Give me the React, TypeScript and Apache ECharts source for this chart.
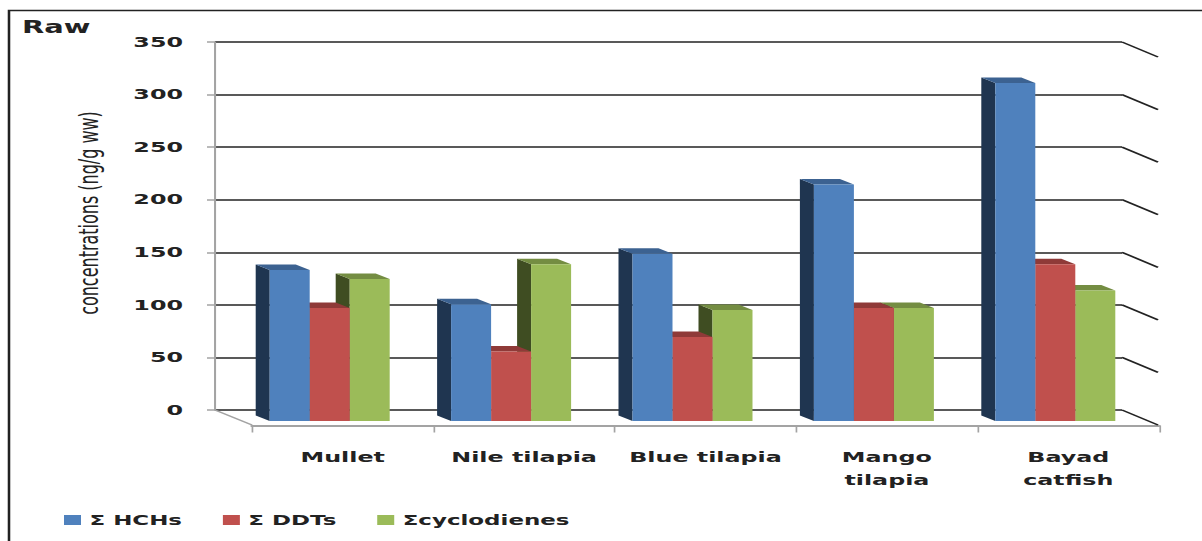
import { useEffect, useRef } from "react";
import * as echarts from "echarts";

// Horizontal stretch of the whole figure; chart units are screen pixels / STRETCH.
const STRETCH = 1.7;
const u = (px: number) => px / STRETCH;

const categories = ["Mullet", "Nile tilapia", "Blue tilapia", "Mango\ntilapia", "Bayad\ncatfish"];
const hchs = [143.5, 111, 159, 225, 321.5];
const ddts = [107.5, 66, 80, 107.5, 149];
const cyclodienes = [135, 149, 105.5, 107.5, 124];
const valueTicks = [0, 50, 100, 150, 200, 250, 300, 350];

const seriesNames = ["Σ HCHs", "Σ DDTs", "Σcyclodienes"];
const faceColors = ["#4f81bd", "#c0504d", "#9bbb59"];
const sideColors = ["#1f3550", "#6e2c2a", "#3f4d22"];
const topColors = ["#3c6291", "#8f3a38", "#748d42"];

const INK = "#222222";
const GREY = "#a3a3a3";
const FONT = "'DejaVu Sans'";

export default function App() {
  const ref = useRef<HTMLDivElement>(null);

  useEffect(() => {
    if (!ref.current) return;
    const chart = echarts.init(ref.current, undefined, { renderer: "svg" });

    // One 3D column: front face, left side and top, pushed forward from the back wall.
    const column = (j: number) => (_: any, api: any) => {
      const cat = api.value(0);
      const band = api.size([1, 0])[0];
      const w = band * 0.2205;
      const [cx, top] = api.coord([cat, api.value(1)]);
      const [, base] = api.coord([cat, 0]);
      const left = cx + u(24) + (j - 1.5) * w;
      const fy = 11;
      const dx = u(14);
      const dy = 5.5;
      const t = top + fy;
      const b = base + fy;
      return {
        type: "group",
        children: [
          {
            type: "polygon",
            shape: { points: [[left, t], [left - dx, t - dy], [left - dx, b - dy], [left, b]] },
            style: { fill: sideColors[j] },
          },
          {
            type: "polygon",
            shape: { points: [[left, t], [left - dx, t - dy], [left + w - dx, t - dy], [left + w, t]] },
            style: { fill: topColors[j] },
          },
          { type: "rect", shape: { x: left, y: t, width: w, height: b - t }, style: { fill: faceColors[j] } },
        ],
      };
    };

    // Short receding gridlines on the right wall, plus the floor edge on the left.
    const depthLines = (params: any, api: any) => {
      const v = api.value(0);
      const [, y] = api.coord([0, v]);
      const area = params.coordSys;
      const right = area.x + area.width;
      const children: any[] = [
        {
          type: "line",
          shape: { x1: right, y1: y, x2: right + u(36), y2: y + 15 },
          style: { stroke: INK, lineWidth: 1.5 },
        },
      ];
      if (v === 0) {
        children.push({
          type: "line",
          shape: { x1: area.x, y1: y, x2: area.x + u(37), y2: y + 15 },
          style: { stroke: GREY, lineWidth: 1.5 },
        });
      }
      return { type: "group", children };
    };

    const columnSeries = [hchs, ddts, cyclodienes].map((values, j) => ({
      type: "custom",
      name: seriesNames[j],
      xAxisIndex: 0,
      yAxisIndex: 0,
      z: 6 - j,
      clip: false,
      itemStyle: { color: faceColors[j] },
      encode: { x: 0, y: 1 },
      data: values.map((v, i) => [i, v]),
      renderItem: column(j),
    }));

    chart.setOption({
      animation: false,
      backgroundColor: "#ffffff",
      title: {
        text: "Raw",
        left: u(22),
        top: 19,
        padding: 0,
        textStyle: { fontFamily: FONT, fontSize: 17, fontWeight: "bold", color: INK },
      },
      legend: {
        left: u(64),
        top: 513,
        padding: 0,
        icon: "rect",
        itemWidth: u(17),
        itemHeight: 10,
        itemGap: 24,
        data: seriesNames,
        textStyle: { fontFamily: FONT, fontSize: 13.5, fontWeight: "bold", color: INK },
      },
      grid: [
        { left: u(215), top: 42, width: u(907), height: 368 },
        { left: u(252), top: 57.5, width: u(907), height: 368 },
      ],
      xAxis: [
        { gridIndex: 0, type: "category", data: categories, show: false },
        {
          gridIndex: 1,
          type: "category",
          data: categories,
          axisLine: { show: true, onZero: false, lineStyle: { color: GREY, width: 2 } },
          axisTick: { show: true, length: 7, lineStyle: { color: GREY, width: 1 } },
          axisLabel: {
            fontFamily: FONT,
            fontSize: 14,
            fontWeight: "bold",
            color: INK,
            margin: 20,
            lineHeight: 23,
            interval: 0,
          },
        },
      ],
      yAxis: [
        {
          gridIndex: 0,
          type: "value",
          min: 0,
          max: 350,
          interval: 50,
          axisLine: { show: true, lineStyle: { color: GREY, width: 1.2 } },
          axisTick: { show: true, length: u(8), lineStyle: { color: GREY, width: 1.5 } },
          axisLabel: {
            fontFamily: FONT,
            fontSize: 14,
            fontWeight: "bold",
            color: INK,
            margin: u(32),
            padding: [6, 0, 0, 0],
          },
          splitLine: { lineStyle: { color: INK, width: 1.5 } },
        },
        { gridIndex: 1, type: "value", min: 0, max: 350, interval: 50, show: false },
      ],
      graphic: [
        {
          type: "text",
          x: u(88),
          y: 213,
          rotation: Math.PI / 2,
          style: {
            text: "concentrations (ng/g ww)",
            fontFamily: FONT,
            fontSize: 16,
            fill: INK,
            textAlign: "center",
            textVerticalAlign: "middle",
          },
        },
        {
          type: "polyline",
          shape: { points: [[u(9), 541], [u(9), 10.5], [u(1202), 10.5]] },
          style: { fill: "none", stroke: INK, lineWidth: 1.5 },
        },
      ],
      series: [
        {
          type: "custom",
          xAxisIndex: 0,
          yAxisIndex: 0,
          z: 1,
          clip: false,
          silent: true,
          encode: { y: 0 },
          data: valueTicks.map((v) => [v]),
          renderItem: depthLines,
        },
        ...columnSeries,
      ],
    });

    return () => chart.dispose();
  }, []);

  return (
    <div
      ref={ref}
      style={{
        position: "absolute",
        left: 0,
        top: 0,
        width: 1202 / STRETCH,
        height: 541,
        transform: `scaleX(${STRETCH})`,
        transformOrigin: "0 0",
      }}
    />
  );
}
